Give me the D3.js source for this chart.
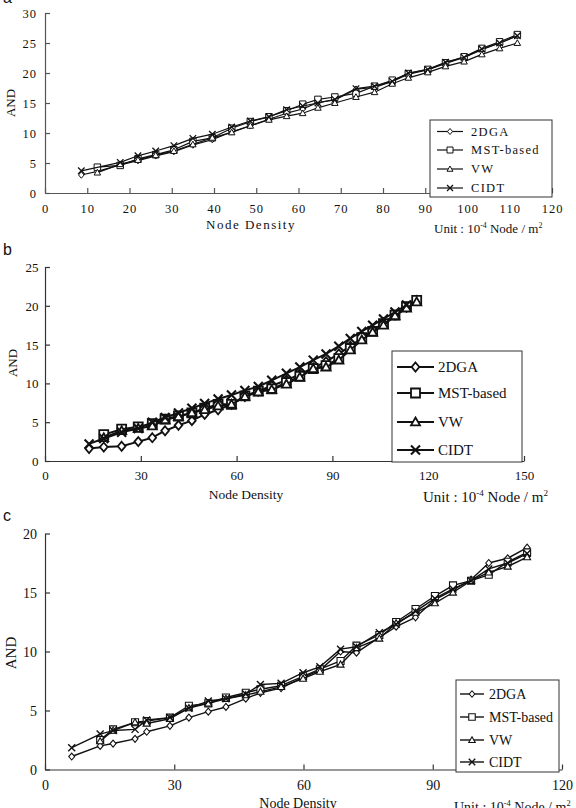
<!DOCTYPE html>
<html>
<head>
<meta charset="utf-8">
<script src="https://cdn.jsdelivr.net/npm/d3@7"></script>
<style>
  body { margin: 0; background: #fff; }
  svg { display: block; }
  text { font-family: "Liberation Serif", "Times New Roman", serif; fill: #111; }
</style>
</head>
<body>
<div id="chart"></div>
<script>
const seriesNames = ['2DGA', 'MST-based', 'VW', 'CIDT'];
const markerTypes = ['diamond', 'square', 'triangle', 'x'];

// panel a
const xA = [8.6, 12.4, 17.8, 22.0, 26.2, 30.5, 35.0, 39.6, 44.2, 48.6, 53.0, 57.2, 61.0, 64.6, 68.6, 73.6, 78.0, 82.2, 86.0, 90.6, 94.8, 99.2, 103.4, 107.6, 111.8];
const a2DGA = [3.0, 3.6, 4.7, 5.4, 6.2, 6.9, 8.0, 8.9, 10.2, 11.2, 12.3, 13.3, 14.0, 15.1, 15.5, 17.3, 17.6, 18.6, 19.8, 20.5, 21.6, 22.6, 23.9, 25.0, 26.2];
const aMST  = [null, 4.3, 4.6, 5.7, 6.4, 7.2, 8.6, 9.2, 10.8, 11.9, 12.7, 13.7, 14.8, 15.6, 16.0, 16.6, 17.8, 18.8, 19.9, 20.6, 21.7, 22.7, 24.1, 25.2, 26.4];
const aVW   = [null, 3.4, 4.8, 5.5, 6.3, 7.0, 8.1, 9.2, 10.1, 11.2, 12.2, 12.8, 13.3, 14.2, 15.0, 16.0, 16.8, 18.2, 19.2, 20.1, 21.1, 21.9, 23.1, 24.1, 25.0];
const aCIDT = [3.7, null, 5.1, 6.2, 7.0, 7.9, 9.1, 9.8, 11.0, 12.0, 12.7, 13.9, 14.5, 15.0, 15.6, 17.4, 17.8, 18.6, 20.0, 20.6, 21.8, 22.6, 24.0, 25.0, 26.2];
const xTicksA = [0, 10, 20, 30, 40, 50, 60, 70, 80, 90, 100, 110, 120];
const yTicksA = [0, 5, 10, 15, 20, 25, 30];

// panel b
const xB = [13.8, 18.4, 24.0, 29.2, 33.6, 37.6, 41.8, 46.0, 50.0, 54.2, 58.4, 62.6, 66.8, 71.0, 75.6, 79.8, 84.0, 88.0, 92.0, 95.6, 99.2, 102.6, 106.0, 109.6, 113.2, 116.4];
const b2DGA = [1.6, 1.8, 1.9, 2.5, 3.0, 3.9, 4.6, 5.2, 6.0, 6.6, 7.3, 8.3, 9.0, 9.7, 10.4, 11.2, 12.0, 12.8, 13.8, 14.8, 15.8, 16.8, 17.8, 18.8, 19.8, 20.7];
const bMST  = [null, 3.4, 4.1, 4.4, 4.8, 5.4, 5.8, 6.2, 6.8, 7.3, 7.3, 8.4, 9.0, 9.3, 10.1, 10.9, 11.9, 12.3, 13.2, 14.5, 15.9, 16.7, 17.7, 18.8, 19.9, 20.7];
const bVW   = [null, 3.0, 3.9, 4.2, 4.5, 5.3, 5.7, 6.2, 6.6, 7.1, 7.3, 8.3, 8.9, 9.2, 9.9, 10.8, 11.9, 12.1, 13.0, 14.3, 15.6, 16.6, 17.5, 18.7, 19.7, 20.5];
const bCIDT = [2.2, 2.9, 3.7, 4.2, 5.0, 5.6, 6.2, 6.8, 7.4, 8.0, 8.5, 9.1, 9.6, 10.4, 11.3, 12.1, 13.0, 13.8, 14.8, 15.8, 16.7, 17.5, 18.3, 19.2, 20.1, null];
const xTicksB = [0, 30, 60, 90, 120, 150];
const yTicksB = [0, 5, 10, 15, 20, 25];

// panel c
const xC = [6.2, 12.8, 15.8, 20.9, 23.6, 29.0, 33.4, 37.9, 42.0, 46.6, 50.0, 54.8, 59.9, 63.8, 68.6, 72.3, 77.6, 81.5, 86.0, 90.5, 94.7, 98.9, 103.0, 107.4, 111.9];
const c2DGA = [1.1, 2.0, 2.2, 2.6, 3.2, 3.7, 4.4, 4.9, 5.3, 6.0, 6.5, 6.9, 7.8, 8.4, 10.0, 9.9, 11.2, 12.1, 12.9, 14.4, 15.2, 16.1, 17.5, 17.9, 18.8];
const cMST  = [null, 2.5, 3.4, 4.0, 4.1, 4.4, 5.4, 5.6, 6.1, 6.5, 6.8, 7.1, 7.9, 8.5, 9.2, 10.5, 11.4, 12.5, 13.6, 14.7, 15.6, 16.0, 16.5, 17.6, 18.4];
const cVW   = [null, 2.4, 3.3, 4.0, 3.9, 4.3, 5.2, 5.6, 6.0, 6.3, 6.6, 7.0, 7.7, 8.3, 8.9, 10.3, 11.1, 12.4, 13.3, 14.1, 15.0, 16.0, 16.7, 17.2, 18.0];
const cCIDT = [1.85, 3.0, 3.3, 3.4, 4.2, 4.4, 5.2, 5.8, 6.0, 6.4, 7.2, 7.3, 8.2, 8.7, 10.2, 10.4, 11.6, 12.3, 13.4, 14.5, 15.3, 16.0, 17.0, 17.5, 18.3];
const xTicksC = [0, 30, 60, 90, 120];
const yTicksC = [0, 5, 10, 15, 20];

const width = 576, height = 808;
const svg = d3.select('#chart').append('svg')
    .attr('width', width)
    .attr('height', height);

// layout of each panel (pixels), values come from the arrays above
const panels = [
  { letter: 'a', letterY: 3, xs: xA, ys: [a2DGA, aMST, aVW, aCIDT], xTicks: xTicksA, yTicks: yTicksA,
    left: 45, right: 552, top: 13, bottom: 193, font: 12.5, spacing: 1, xPad: 11.5, yPad: 8,
    axisColor: '#555', lineW: 1.2, mark: 6.5, markW: 1,
    legend: { x: 430, y: 120, w: 122, h: 77, rows: [131.5, 150, 169, 188], lx1: 437, lx2: 463, tx: 471, font: 12.5, spacing: 1.3, mark: 6, lineW: 1.2 },
    and: { x: 10, y: 103, font: 13 },
    title: { x: 251, y: 229, font: 13, spacing: 1.5 },
    unit: { x: 434, y: 233, font: 13 } },
  { letter: 'b', letterY: 255, xs: xB, ys: [b2DGA, bMST, bVW, bCIDT], xTicks: xTicksB, yTicks: yTicksB,
    left: 45, right: 524, top: 267, bottom: 461, font: 13, spacing: 0, xPad: 9.3, yPad: 6.5,
    axisColor: '#333', lineW: 2, mark: 9, markW: 1.8,
    legend: { x: 392, y: 351, w: 130, h: 111, rows: [367, 393, 422, 450], lx1: 397, lx2: 434, tx: 438, font: 15, spacing: 0, mark: 9, lineW: 2 },
    and: { x: 12, y: 363, font: 13 },
    title: { x: 246, y: 499, font: 13.5, spacing: 0 },
    unit: { x: 423, y: 502, font: 15 } },
  { letter: 'c', letterY: 521, xs: xC, ys: [c2DGA, cMST, cVW, cCIDT], xTicks: xTicksC, yTicks: yTicksC,
    left: 45, right: 562, top: 533.5, bottom: 769.5, font: 14, spacing: 0, xPad: 10.6, yPad: 8,
    axisColor: '#333', lineW: 1.4, mark: 7, markW: 1.1,
    legend: { x: 456, y: 680, w: 103, h: 92, rows: [694, 717, 740, 762], lx1: 460, lx2: 484, tx: 489, font: 14, spacing: 0, mark: 6.5, lineW: 1.4 },
    and: { x: 11, y: 653, font: 15 },
    title: { x: 298, y: 808, font: 14, spacing: 0 },
    unit: { x: 454, y: 812, font: 14 } }
];

function markerPath(type, s) {
  const h = s / 2;
  if (type === 'diamond') return `M0,${-h}L${h * 0.85},0L0,${h}L${-h * 0.85},0Z`;
  if (type === 'square') return `M${-h},${-h}h${s}v${s}h${-s}Z`;
  if (type === 'triangle') return `M0,${-h}L${h},${h * 0.75}L${-h},${h * 0.75}Z`;
  return `M${-h},${-h}L${h},${h}M${h},${-h}L${-h},${h}`;
}

function drawPanel(p) {
  const g = svg.append('g');
  const x = d3.scaleLinear([0, d3.max(p.xTicks)], [p.left, p.right]);
  const y = d3.scaleLinear([0, d3.max(p.yTicks)], [p.bottom, p.top]);

  const xAxis = d3.axisBottom(x).tickValues(p.xTicks).tickSize(-5).tickSizeOuter(0).tickPadding(p.xPad);
  const yAxis = d3.axisLeft(y).tickValues(p.yTicks).tickSize(-5).tickSizeOuter(0).tickPadding(p.yPad);

  const gx = g.append('g').attr('transform', `translate(0,${p.bottom})`).call(xAxis);
  const gy = g.append('g').attr('transform', `translate(${p.left},0)`).call(yAxis);
  [gx, gy].forEach(ax => {
    ax.selectAll('path, line').attr('stroke', p.axisColor).attr('stroke-width', 1.2);
    ax.selectAll('text')
      .style('font-family', '"Liberation Serif", serif')
      .style('font-size', p.font + 'px')
      .style('letter-spacing', p.spacing + 'px')
      .attr('fill', '#111');
  });
  gy.selectAll('text').attr('dy', '0.35em');

  const line = d3.line().x(d => x(d[0])).y(d => y(d[1]));

  p.ys.forEach((vals, i) => {
    const pts = p.xs.map((v, j) => [v, vals[j]]).filter(d => d[1] != null);
    g.append('path')
      .attr('d', line(pts))
      .attr('fill', 'none')
      .attr('stroke', '#111')
      .attr('stroke-width', p.lineW)
      .attr('stroke-linejoin', 'round');
    g.selectAll(null)
      .data(pts)
      .join('path')
      .attr('transform', d => `translate(${x(d[0])},${y(d[1])})`)
      .attr('d', markerPath(markerTypes[i], p.mark))
      .attr('fill', '#fff')
      .attr('stroke', '#111')
      .attr('stroke-width', markerTypes[i] === 'x' ? p.markW + 0.3 : p.markW);
  });

  // legend
  const L = p.legend;
  g.append('rect')
    .attr('x', L.x).attr('y', L.y).attr('width', L.w).attr('height', L.h)
    .attr('fill', '#fff').attr('stroke', '#333').attr('stroke-width', 1);
  seriesNames.forEach((name, i) => {
    const ry = L.rows[i];
    g.append('line')
      .attr('x1', L.lx1).attr('x2', L.lx2).attr('y1', ry).attr('y2', ry)
      .attr('stroke', '#111').attr('stroke-width', L.lineW);
    g.append('path')
      .attr('transform', `translate(${(L.lx1 + L.lx2) / 2},${ry})`)
      .attr('d', markerPath(markerTypes[i], L.mark))
      .attr('fill', '#fff').attr('stroke', '#111')
      .attr('stroke-width', markerTypes[i] === 'x' ? p.markW + 0.3 : p.markW);
    g.append('text')
      .attr('x', L.tx).attr('y', ry).attr('dy', '0.35em')
      .style('font-size', L.font + 'px')
      .style('letter-spacing', L.spacing + 'px')
      .text(name);
  });

  // axis titles
  g.append('text')
    .attr('transform', `translate(${p.and.x},${p.and.y}) rotate(-90)`)
    .attr('text-anchor', 'middle').attr('dy', '0.35em')
    .style('font-size', p.and.font + 'px')
    .text('AND');
  g.append('text')
    .attr('x', p.title.x).attr('y', p.title.y)
    .attr('text-anchor', 'middle')
    .style('font-size', p.title.font + 'px')
    .style('letter-spacing', p.title.spacing + 'px')
    .text('Node Density');
  const u = g.append('text')
    .attr('x', p.unit.x).attr('y', p.unit.y)
    .style('font-size', p.unit.font + 'px');
  u.append('tspan').text('Unit : 10');
  u.append('tspan').attr('dy', -p.unit.font * 0.4).style('font-size', (p.unit.font * 0.6) + 'px').text('-4');
  u.append('tspan').attr('dy', p.unit.font * 0.4).text(' Node / m');
  u.append('tspan').attr('dy', -p.unit.font * 0.4).style('font-size', (p.unit.font * 0.6) + 'px').text('2');

  svg.append('text')
    .attr('x', 3).attr('y', p.letterY)
    .style('font-family', '"Liberation Sans", Arial, sans-serif')
    .style('font-size', '16px')
    .text(p.letter);
}

panels.forEach(drawPanel);
</script>
</body>
</html>
